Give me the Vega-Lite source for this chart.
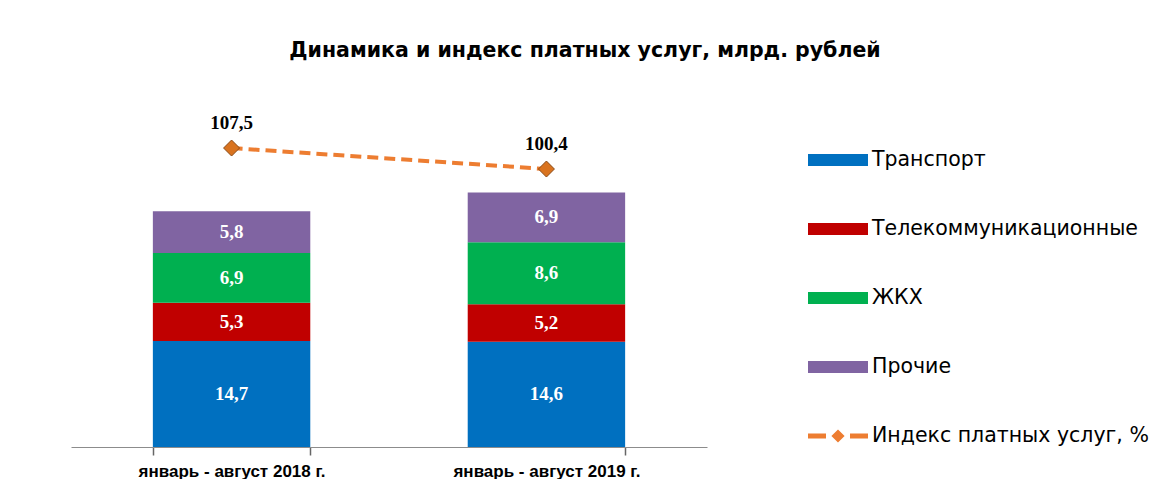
{
  "$schema": "https://vega.github.io/schema/vega-lite/v6.json",
  "width": 636,
  "height": 346,
  "padding": {"left": 71, "top": 40, "right": 0, "bottom": 0},
  "background": "white",
  "title": {
    "text": "Динамика и индекс платных услуг, млрд. рублей",
    "font": "DejaVu Sans",
    "fontWeight": "bold",
    "fontSize": 20.5,
    "color": "#000000",
    "anchor": "middle",
    "frame": "group",
    "dx": 196,
    "offset": 40
  },
  "datasets": {
    "bars": [
      {"period": "январь - август 2018 г.", "category": "Транспорт", "order": 1, "value": 14.7},
      {"period": "январь - август 2018 г.", "category": "Телекоммуникационные", "order": 2, "value": 5.3},
      {"period": "январь - август 2018 г.", "category": "ЖКХ", "order": 3, "value": 6.9},
      {"period": "январь - август 2018 г.", "category": "Прочие", "order": 4, "value": 5.8},
      {"period": "январь - август 2019 г.", "category": "Транспорт", "order": 1, "value": 14.6},
      {"period": "январь - август 2019 г.", "category": "Телекоммуникационные", "order": 2, "value": 5.2},
      {"period": "январь - август 2019 г.", "category": "ЖКХ", "order": 3, "value": 8.6},
      {"period": "январь - август 2019 г.", "category": "Прочие", "order": 4, "value": 6.9}
    ],
    "index": [
      {"period": "январь - август 2018 г.", "series": "Индекс платных услуг, %", "index": 107.5},
      {"period": "январь - август 2019 г.", "series": "Индекс платных услуг, %", "index": 100.4}
    ]
  },
  "encoding": {
    "x": {
      "field": "period",
      "type": "nominal",
      "sort": null,
      "scale": {"paddingInner": 0.5, "paddingOuter": 0.26},
      "axis": {
        "title": null,
        "labelAngle": 0,
        "labelFont": "Liberation Sans",
        "labelFontWeight": "bold",
        "labelFontSize": 17,
        "labelColor": "#000000",
        "labelLimit": 400,
        "labelPadding": 8,
        "domainColor": "#8c8c8c",
        "ticks": true,
        "tickColor": "#666666",
        "tickWidth": 1.5,
        "tickSize": 8,
        "tickBand": "extent",
        "tickExtra": true,
        "tickOpacity": 1,
        "grid": false
      }
    }
  },
  "layer": [
    {
      "data": {"name": "bars"},
      "layer": [
        {
          "mark": {"type": "bar"},
          "encoding": {
            "y": {"field": "value", "type": "quantitative", "stack": "zero", "scale": {"domain": [0, 48], "nice": false}, "axis": null},
            "color": {
              "field": "category",
              "type": "nominal",
              "scale": {
                "domain": ["Транспорт", "Телекоммуникационные", "ЖКХ", "Прочие", "Индекс платных услуг, %"],
                "range": ["#0070C0", "#C00000", "#00B050", "#8064A2", "#ED7D31"]
              },
              "legend": {
                "title": null,
                "orient": "none",
                "legendX": 737,
                "legendY": 29,
                "labelFont": "DejaVu Sans",
                "labelFontSize": 20.5,
                "labelColor": "#000000",
                "labelLimit": 400,
                "labelOffset": 4,
                "symbolSize": 3600,
                "rowPadding": 28,
                "encode": {
                  "symbols": {
                    "update": {
                      "shape": {"signal": "datum.value === 'Индекс платных услуг, %' ? 'M-1,-0.08L-0.4,-0.08L-0.4,0.08L-1,0.08Z M0.4,-0.08L1,-0.08L1,0.08L0.4,0.08Z M0,-0.22L0.22,0L0,0.22L-0.22,0Z' : 'M-1,-0.2L1,-0.2L1,0.2L-1,0.2Z'"},
                      "fill": {"scale": "color", "field": "value"},
                      "strokeWidth": {"value": 0},
                      "opacity": {"value": 1}
                    }
                  }
                }
              }
            },
            "order": {"field": "order", "type": "quantitative"}
          }
        },
        {
          "mark": {"type": "text", "font": "Liberation Serif", "fontWeight": "bold", "fontSize": 19, "color": "#FFFFFF", "baseline": "middle"},
          "encoding": {
            "y": {"field": "value", "type": "quantitative", "stack": "zero", "bandPosition": 0.5, "scale": {"domain": [0, 48], "nice": false}, "axis": null},
            "detail": {"field": "category"},
            "order": {"field": "order", "type": "quantitative"},
            "text": {"field": "value", "type": "quantitative", "format": ".1f", "formatType": "number"}
          }
        }
      ]
    },
    {
      "data": {"name": "index"},
      "layer": [
        {
          "mark": {"type": "line", "strokeWidth": 4, "strokeDash": [11, 6]},
          "encoding": {
            "y": {"field": "index", "type": "quantitative", "scale": {"domain": [6.4, 123.4], "nice": false, "zero": false}, "axis": null},
            "color": {"field": "series", "type": "nominal"}
          }
        },
        {
          "mark": {"type": "point", "shape": "diamond", "size": 256, "filled": true, "fill": "#D9731F", "stroke": "#8A4A16", "strokeWidth": 1, "opacity": 1},
          "encoding": {
            "y": {"field": "index", "type": "quantitative", "scale": {"domain": [6.4, 123.4], "nice": false, "zero": false}, "axis": null}
          }
        },
        {
          "mark": {"type": "text", "font": "Liberation Serif", "fontWeight": "bold", "fontSize": 19, "color": "#000000", "dy": -25, "baseline": "middle"},
          "encoding": {
            "y": {"field": "index", "type": "quantitative", "scale": {"domain": [6.4, 123.4], "nice": false, "zero": false}, "axis": null},
            "text": {"field": "index", "type": "quantitative", "format": ".1f"}
          }
        }
      ]
    }
  ],
  "resolve": {"scale": {"y": "independent"}},
  "config": {
    "view": {"stroke": null},
    "locale": {"number": {"decimal": ",", "thousands": " ", "grouping": [3], "currency": ["", " ₽"]}}
  }
}
